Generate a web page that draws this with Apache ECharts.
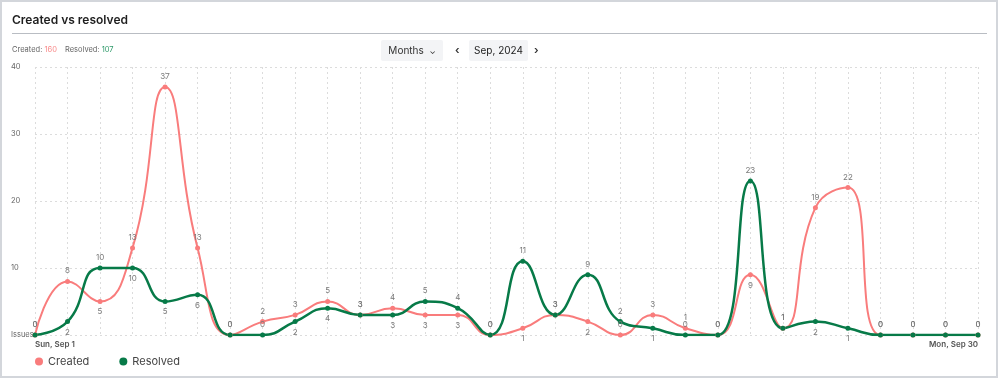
<!DOCTYPE html>
<html>
<head>
<meta charset="utf-8">
<script src="https://cdn.jsdelivr.net/npm/echarts@6/dist/echarts.min.js"></script>
<style>
  html, body { margin: 0; padding: 0; background: #fff; }
  body { font-family: Inter, "Noto Sans", sans-serif; }
  .card { position: relative; width: 998px; height: 378px; box-sizing: border-box; border: 2px solid #d3d6db; }
  .title { position: absolute; left: 10px; top: 10px; font-size: 12px; font-weight: 600; color: #1f1f1f; }
  .divider { position: absolute; left: 10px; right: 9px; top: 31px; height: 0; border-top: 1.5px solid #b9bdc3; }
  .counts { position: absolute; left: 10px; top: 43px; font-size: 7.5px; color: #666; }
  .counts .c { color: #f98a8a; margin-right: 6px; }
  .counts .r { color: #2f9a6a; }
  .btn { position: absolute; top: 38px; height: 21px; background: #f3f4f6; border-radius: 2px; font-size: 10px; color: #333; line-height: 21px; text-align: center; }
  .arrow { position: absolute; top: 38px; font-size: 11px; line-height: 21px; color: #333; font-weight: 600; }
  #chart { position: absolute; left: 0; top: -2px; width: 994px; height: 376px; }
</style>
</head>
<body>
<div class="card">
  <div id="chart"></div>
  <div class="title">Created vs resolved</div>
  <div class="divider"></div>
  <div class="counts">Created: <span class="c">160</span> Resolved: <span class="r">107</span></div>
  <div class="btn" style="left:379px;width:62px;">Months &nbsp;<span style="font-size:8px">&#8964;</span></div>
  <div class="arrow" style="left:453px;">&#8249;</div>
  <div class="btn" style="left:467px;width:59px;color:#222;">Sep, 2024</div>
  <div class="arrow" style="left:532px;">&#8250;</div>
</div>
<script>
var days = ['Sun, Sep 1', 'Mon, Sep 2', 'Tue, Sep 3', 'Wed, Sep 4', 'Thu, Sep 5', 'Fri, Sep 6', 'Sat, Sep 7',
  'Sun, Sep 8', 'Mon, Sep 9', 'Tue, Sep 10', 'Wed, Sep 11', 'Thu, Sep 12', 'Fri, Sep 13', 'Sat, Sep 14',
  'Sun, Sep 15', 'Mon, Sep 16', 'Tue, Sep 17', 'Wed, Sep 18', 'Thu, Sep 19', 'Fri, Sep 20', 'Sat, Sep 21',
  'Sun, Sep 22', 'Mon, Sep 23', 'Tue, Sep 24', 'Wed, Sep 25', 'Thu, Sep 26', 'Fri, Sep 27', 'Sat, Sep 28',
  'Sun, Sep 29', 'Mon, Sep 30'];
var created = [0, 8, 5, 13, 37, 13, 0, 2, 3, 5, 3, 4, 3, 3, 0, 1, 3, 2, 0, 3, 1, 0, 9, 1, 19, 22, 0, 0, 0, 0];
var resolved = [0, 2, 10, 10, 5, 6, 0, 0, 2, 4, 3, 3, 5, 4, 0, 11, 3, 9, 2, 1, 0, 0, 23, 1, 2, 1, 0, 0, 0, 0];
var yTicks = ['Issues', '10', '20', '30', '40'];

var createdColor = '#f97c7c';
var resolvedColor = '#077a48';

// larger value gets label above, smaller below; zeros always above
function withLabels(vals, other) {
  return vals.map(function (v, i) {
    var pos = (v === 0 || v >= other[i]) ? 'top' : 'bottom';
    return { value: v, label: { position: pos } };
  });
}

var chart = echarts.init(document.getElementById('chart'));
chart.setOption({
  backgroundColor: 'transparent',
  animation: false,
  textStyle: { fontFamily: 'Inter' },
  grid: { top: 67, left: 33, right: 18, bottom: 41, containLabel: false },
  legend: {
    left: 28,
    bottom: 4,
    icon: 'circle',
    itemWidth: 8,
    itemHeight: 8,
    itemGap: 30,
    textStyle: { fontSize: 11, color: '#444' },
    data: ['Created', 'Resolved']
  },
  xAxis: {
    type: 'category',
    boundaryGap: false,
    data: days,
    axisLine: { show: false },
    axisTick: { show: false },
    axisLabel: {
      interval: 0,
      margin: 6,
      fontSize: 8,
      fontWeight: 600,
      color: '#555',
      alignMinLabel: 'left',
      alignMaxLabel: 'right',
      formatter: function (v, i) {
        return (i === 0 || i === days.length - 1) ? v : '';
      }
    },
    splitLine: { show: true, interval: 0, lineStyle: { color: '#dcdcdc', type: [2, 3] } }
  },
  yAxis: {
    type: 'value',
    min: 0,
    max: 40,
    interval: 10,
    axisLine: { show: false },
    axisTick: { show: false },
    axisLabel: {
      margin: 24,
      align: 'left',
      fontSize: 7.5,
      color: '#666',
      formatter: function (v) { return yTicks[v / 10]; }
    },
    splitLine: { lineStyle: { color: '#dcdcdc', type: [2, 3] } }
  },
  series: [{
    name: 'Created',
    type: 'line',
    smooth: true,
    symbol: 'circle',
    symbolSize: 5,
    color: createdColor,
    lineStyle: { width: 2, color: createdColor },
    label: { show: true, fontSize: 8, color: '#7a7a7a', distance: 4 },
    data: withLabels(created, resolved)
  }, {
    name: 'Resolved',
    type: 'line',
    smooth: true,
    symbol: 'circle',
    symbolSize: 5,
    color: resolvedColor,
    lineStyle: { width: 2.5, color: resolvedColor },
    label: { show: true, fontSize: 8, color: '#7a7a7a', distance: 4 },
    data: withLabels(resolved, created)
  }]
});
</script>
</body>
</html>
